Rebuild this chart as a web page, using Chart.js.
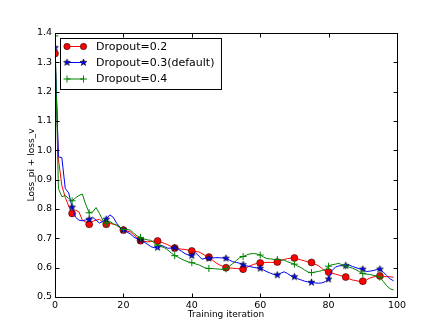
<!DOCTYPE html>
<html>
<head>
<meta charset="utf-8">
<script src="https://cdn.jsdelivr.net/npm/chart.js@4.4.0/dist/chart.umd.min.js"></script>
<style>
  html, body { margin: 0; padding: 0; background: #fff; }
  #wrap { width: 440px; height: 330px; position: relative; }
</style>
</head>
<body>
<div id="wrap"><canvas id="lossChart"></canvas></div>
<script>
// x positions: one point per training iteration 0..99
const iterations = Array.from({ length: 100 }, (_, i) => i);

const dropout02 = [
  1.33, 0.97, 0.88, 0.84, 0.81, 0.785, 0.796, 0.790, 0.762, 0.755,
  0.748, 0.758, 0.762, 0.765, 0.755, 0.748, 0.752, 0.748, 0.745, 0.735,
  0.728, 0.725, 0.722, 0.712, 0.702, 0.692, 0.690, 0.688, 0.689, 0.691,
  0.691, 0.687, 0.683, 0.678, 0.672, 0.667, 0.665, 0.663, 0.662, 0.660,
  0.657, 0.655, 0.654, 0.648, 0.641, 0.636, 0.626, 0.617, 0.610, 0.605,
  0.600, 0.599, 0.598, 0.597, 0.596, 0.595, 0.600, 0.606, 0.611, 0.614,
  0.616, 0.617, 0.618, 0.618, 0.618, 0.619, 0.624, 0.628, 0.631, 0.632,
  0.633, 0.630, 0.626, 0.623, 0.620, 0.618, 0.612, 0.607, 0.598, 0.588,
  0.585, 0.581, 0.578, 0.575, 0.571, 0.568, 0.562, 0.558, 0.556, 0.553,
  0.554, 0.558, 0.564, 0.568, 0.571, 0.572, 0.570, 0.569, 0.569, 0.567
];

const dropout03 = [
  1.35, 0.978, 0.975, 0.870, 0.855, 0.806, 0.772, 0.762, 0.760, 0.763,
  0.765, 0.772, 0.762, 0.752, 0.758, 0.765, 0.780, 0.772, 0.752, 0.738,
  0.729, 0.722, 0.715, 0.705, 0.698, 0.694, 0.688, 0.680, 0.672, 0.668,
  0.669, 0.676, 0.672, 0.666, 0.667, 0.667, 0.663, 0.656, 0.648, 0.643,
  0.641, 0.652, 0.640, 0.629, 0.632, 0.632, 0.633, 0.634, 0.634, 0.633,
  0.632, 0.626, 0.620, 0.618, 0.615, 0.610, 0.606, 0.604, 0.601, 0.599,
  0.598, 0.592, 0.586, 0.581, 0.577, 0.575, 0.581, 0.586, 0.580, 0.572,
  0.569, 0.562, 0.558, 0.554, 0.551, 0.550, 0.548, 0.547, 0.548, 0.552,
  0.561, 0.590, 0.602, 0.606, 0.607, 0.607, 0.609, 0.604, 0.600, 0.596,
  0.595, 0.587, 0.588, 0.590, 0.593, 0.595, 0.585, 0.573, 0.562, 0.555
];

const dropout04 = [
  1.39, 0.870, 0.842, 0.846, 0.836, 0.828, 0.838, 0.846, 0.851, 0.815,
  0.787, 0.790, 0.805, 0.785, 0.760, 0.752, 0.758, 0.750, 0.745, 0.738,
  0.730, 0.730, 0.728, 0.718, 0.708, 0.703, 0.698, 0.695, 0.693, 0.685,
  0.677, 0.672, 0.668, 0.660, 0.650, 0.641, 0.636, 0.629, 0.624, 0.620,
  0.617, 0.613, 0.610, 0.604, 0.599, 0.597, 0.597, 0.596, 0.595, 0.594,
  0.596, 0.605, 0.614, 0.624, 0.634, 0.638, 0.643, 0.647, 0.648, 0.647,
  0.643, 0.636, 0.631, 0.630, 0.628, 0.628, 0.627, 0.626, 0.620, 0.616,
  0.612, 0.605, 0.600, 0.592, 0.585, 0.583, 0.585, 0.587, 0.590, 0.594,
  0.605, 0.610, 0.612, 0.615, 0.609, 0.606, 0.602, 0.598, 0.593, 0.586,
  0.580, 0.578, 0.577, 0.574, 0.572, 0.568, 0.553, 0.538, 0.528, 0.524
];

const seriesLabels = ['Dropout=0.2', 'Dropout=0.3(default)', 'Dropout=0.4'];
const xTicks = [0, 20, 40, 60, 80, 100];
const yTicks = [0.5, 0.6, 0.7, 0.8, 0.9, 1.0, 1.1, 1.2, 1.3, 1.4];

const FONT = 'DejaVu Sans';
const MARK_EVERY = 5;

// matplotlib-style filled star marker
function makeStar(r, fill, edge) {
  const s = Math.ceil(r * 2 + 3);
  const c = document.createElement('canvas');
  c.width = s;
  c.height = s;
  const g = c.getContext('2d');
  g.translate(s / 2, s / 2);
  g.beginPath();
  for (let k = 0; k < 10; k++) {
    const rr = k % 2 ? r * 0.42 : r;
    const ang = -Math.PI / 2 + (k * Math.PI) / 5;
    g.lineTo(rr * Math.cos(ang), rr * Math.sin(ang));
  }
  g.closePath();
  g.fillStyle = fill;
  g.fill();
  g.strokeStyle = edge;
  g.lineWidth = 0.6;
  g.stroke();
  return c;
}
const starMarker = makeStar(3.6, '#0000ff', '#000');

const every = (r) => (ctx) => (ctx.dataIndex % MARK_EVERY === 0 ? r : 0);

function drawMarker(ctx, kind, x, y) {
  if (kind === 'circle') {
    ctx.beginPath();
    ctx.arc(x, y, 3.2, 0, Math.PI * 2);
    ctx.fillStyle = '#ff0000';
    ctx.fill();
    ctx.lineWidth = 0.5;
    ctx.strokeStyle = '#000';
    ctx.stroke();
  } else if (kind === 'star') {
    ctx.drawImage(starMarker, x - starMarker.width / 2, y - starMarker.height / 2);
  } else {
    ctx.beginPath();
    ctx.moveTo(x - 3.5, y);
    ctx.lineTo(x + 3.5, y);
    ctx.moveTo(x, y - 3.5);
    ctx.lineTo(x, y + 3.5);
    ctx.lineWidth = 1;
    ctx.strokeStyle = '#008000';
    ctx.stroke();
  }
}

const frameAndLegend = {
  id: 'frameAndLegend',
  afterDraw(chart) {
    const { ctx, chartArea: a, scales } = chart;
    const L = Math.round(a.left) + 0.5;
    const R = Math.round(a.right) + 0.5;
    const T = Math.round(a.top) + 0.5;
    const B = Math.round(a.bottom) + 0.5;
    ctx.save();
    ctx.strokeStyle = '#000';
    ctx.lineWidth = 1;
    ctx.strokeRect(L, T, R - L, B - T);

    // inward ticks on all four sides
    const tl = 4;
    ctx.beginPath();
    xTicks.forEach((v) => {
      const px = Math.round(scales.x.getPixelForValue(v)) + 0.5;
      ctx.moveTo(px, B); ctx.lineTo(px, B - tl);
      ctx.moveTo(px, T); ctx.lineTo(px, T + tl);
    });
    yTicks.forEach((v) => {
      const py = Math.round(scales.y.getPixelForValue(v)) + 0.5;
      ctx.moveTo(L, py); ctx.lineTo(L + tl, py);
      ctx.moveTo(R, py); ctx.lineTo(R - tl, py);
    });
    ctx.stroke();

    // legend box
    const kinds = ['circle', 'star', 'plus'];
    const colors = ['#ff0000', '#0000ff', '#008000'];
    ctx.font = `11px "${FONT}"`;
    const textX = 96;
    const widest = Math.max(...seriesLabels.map((s) => ctx.measureText(s).width));
    const bx = 60.5, by = 38.5;
    const bw = textX + widest + 7 - bx;
    const bh = 51;
    ctx.fillStyle = '#fff';
    ctx.fillRect(bx, by, bw, bh);
    ctx.strokeStyle = '#000';
    ctx.strokeRect(bx, by, bw, bh);

    const rows = [46.5, 62.5, 79];
    seriesLabels.forEach((label, i) => {
      const yy = rows[i];
      ctx.beginPath();
      ctx.moveTo(67, yy);
      ctx.lineTo(83.5, yy);
      ctx.strokeStyle = colors[i];
      ctx.lineWidth = 1;
      ctx.stroke();
      drawMarker(ctx, kinds[i], 67, yy);
      drawMarker(ctx, kinds[i], 83.5, yy);
      ctx.fillStyle = '#000';
      ctx.textAlign = 'left';
      ctx.textBaseline = 'middle';
      ctx.fillText(label, textX, yy + 0.5);
    });
    ctx.restore();
  },
};

const canvas = document.getElementById('lossChart');
new Chart(canvas, {
  type: 'line',
  data: {
    labels: iterations,
    datasets: [
      {
        label: seriesLabels[0],
        data: dropout02,
        borderColor: '#ff0000',
        borderWidth: 1,
        pointStyle: 'circle',
        pointRadius: every(3.5),
        pointBackgroundColor: '#ff0000',
        pointBorderColor: '#000',
        pointBorderWidth: 0.5,
        order: 2,
      },
      {
        label: seriesLabels[1],
        data: dropout03,
        borderColor: '#0000ff',
        borderWidth: 1,
        pointStyle: starMarker,
        pointRadius: every(3.5),
        order: 1,
      },
      {
        label: seriesLabels[2],
        data: dropout04,
        borderColor: '#008000',
        borderWidth: 1,
        pointStyle: 'cross',
        pointRadius: every(3.5),
        pointBorderColor: '#008000',
        pointBorderWidth: 1,
        order: 0,
      },
    ],
  },
  options: {
    responsive: true,
    maintainAspectRatio: false,
    animation: false,
    devicePixelRatio: 1,
    layout: { padding: { left: 0, top: 33, right: 43, bottom: 0 } },
    elements: { line: { tension: 0 }, point: { hoverRadius: 0 } },
    plugins: { legend: { display: false }, tooltip: { enabled: false } },
    scales: {
      x: {
        type: 'linear',
        min: 0,
        max: 100,
        afterBuildTicks: (s) => { s.ticks = xTicks.map((v) => ({ value: v })); },
        afterFit: (s) => { s.height = 33; },
        grid: { display: false, drawTicks: false },
        border: { display: false },
        ticks: {
          color: '#000',
          padding: 3,
          maxRotation: 0,
          font: { family: FONT, size: 9.5 },
        },
        title: {
          display: true,
          text: 'Training iteration',
          color: '#000',
          font: { family: FONT, size: 9 },
          padding: { top: 0, bottom: 10 },
        },
      },
      y: {
        min: 0.5,
        max: 1.4,
        afterBuildTicks: (s) => { s.ticks = yTicks.map((v) => ({ value: v })); },
        afterFit: (s) => { s.width = 55; },
        grid: { display: false, drawTicks: false },
        border: { display: false },
        ticks: {
          color: '#000',
          padding: 3,
          callback: (v) => Number(v).toFixed(1),
          font: { family: FONT, size: 9.5 },
        },
        title: {
          display: true,
          text: 'Loss_pi + loss_v',
          color: '#000',
          font: { family: FONT, size: 9 },
          padding: { top: 26, bottom: 0 },
        },
      },
    },
  },
  plugins: [frameAndLegend],
});
</script>
</body>
</html>
